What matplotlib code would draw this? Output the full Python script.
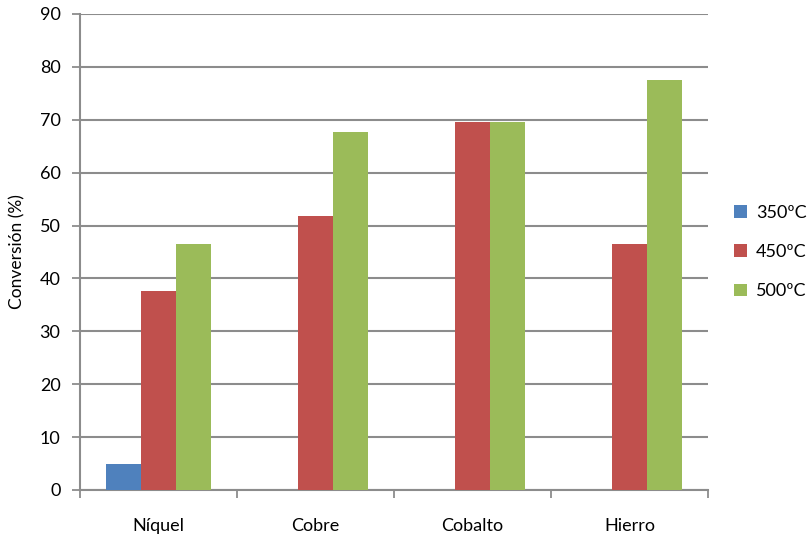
import matplotlib.pyplot as plt
import numpy as np

plt.rcParams['font.family'] = ['Lato', 'DejaVu Sans']

metales = ["Níquel", "Cobre", "Cobalto", "Hierro"]
temperaturas = ["350ºC", "450ºC", "500ºC"]
t350 = [5.0, 0, 0, 0]
t450 = [37.7, 51.9, 69.5, 46.5]
t500 = [46.6, 67.7, 69.5, 77.5]
colores = ["#4F81BD", "#C0504D", "#9BBB59"]

fig = plt.figure(figsize=(8.09, 5.39), dpi=100)
ax = fig.add_axes([80/809, 1-490/539, 628/809, 476/539])

x = np.arange(len(metales)) + 0.5
w = 1/4.5
for i, (serie, col, lab) in enumerate(zip([t350, t450, t500], colores, temperaturas)):
    ax.bar(x + (i-1)*w, serie, width=w, color=col, label=lab, zorder=3)

gris = "#8C8C8C"
ax.set_xlim(0, 4)
ax.set_ylim(0, 90)
ax.set_yticks(range(0, 91, 10))
ax.yaxis.grid(True, color=gris, linewidth=1.5, zorder=0)
ax.set_xticks(x)
ax.set_xticklabels(metales, fontsize=13)
ax.set_xticks(range(5), minor=True)
ax.tick_params(axis='x', which='major', length=0, pad=20)
ax.tick_params(axis='x', which='minor', length=6, color=gris, width=1.3)
ax.tick_params(axis='y', length=6, color=gris, width=1.3, labelsize=13, pad=8)

for s in ['top', 'right']:
    ax.spines[s].set_visible(False)
for s in ['left', 'bottom']:
    ax.spines[s].set_color(gris)
    ax.spines[s].set_linewidth(1.5)

ax.set_ylabel("Conversión (%)", fontsize=12.5, labelpad=10)

ax.legend(loc='center left', bbox_to_anchor=(1.03, 0.5), frameon=False,
          fontsize=13, handlelength=0.7, handleheight=0.7,
          handletextpad=0.5, labelspacing=1.3, borderaxespad=0)

fig.savefig("out.png", dpi=100)
